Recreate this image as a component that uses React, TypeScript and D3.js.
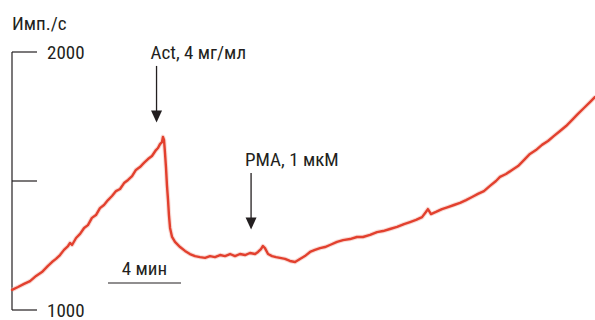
import React from "react";
import * as d3 from "d3";

const times = [0, 0.33, 0.66, 0.99, 1.32, 1.64, 1.97, 2.19, 2.41, 2.63, 2.85, 3.07, 3.18, 3.29, 3.51, 3.73, 3.95, 4.16, 4.38, 4.6, 4.82, 5.04, 5.26, 5.48, 5.7, 5.92, 6.14, 6.36, 6.58, 6.79, 7.01, 7.23, 7.45, 7.67, 7.89, 8.0, 8.11, 8.22, 8.27, 8.33, 8.38, 8.44, 8.49, 8.55, 8.6, 8.66, 8.77, 8.93, 9.21, 9.48, 9.75, 10.03, 10.3, 10.58, 10.85, 11.12, 11.4, 11.67, 11.95, 12.22, 12.49, 12.77, 13.04, 13.32, 13.48, 13.64, 13.75, 13.86, 14.03, 14.25, 14.47, 14.68, 14.96, 15.23, 15.51, 15.78, 16.05, 16.33, 16.6, 16.88, 17.15, 17.42, 17.81, 18.14, 18.52, 18.9, 19.23, 19.62, 20.0, 20.33, 20.71, 21.1, 21.48, 21.81, 22.14, 22.47, 22.68, 22.79, 22.96, 23.23, 23.56, 23.89, 24.22, 24.55, 24.88, 25.21, 25.53, 25.86, 26.19, 26.52, 26.74, 27.07, 27.4, 27.73, 28.05, 28.38, 28.71, 29.04, 29.37, 29.7, 30.03, 30.36, 30.68, 31.01, 31.34, 31.67, 31.95];

const counts = [1078, 1089, 1101, 1112, 1132, 1147, 1171, 1186, 1198, 1213, 1233, 1248, 1260, 1252, 1279, 1295, 1318, 1329, 1357, 1368, 1395, 1407, 1426, 1442, 1461, 1469, 1492, 1504, 1519, 1543, 1554, 1570, 1585, 1597, 1620, 1628, 1643, 1651, 1671, 1659, 1612, 1550, 1484, 1426, 1368, 1318, 1283, 1264, 1244, 1229, 1217, 1209, 1205, 1202, 1209, 1205, 1213, 1209, 1217, 1209, 1217, 1213, 1221, 1217, 1225, 1236, 1248, 1240, 1217, 1209, 1205, 1202, 1198, 1190, 1186, 1198, 1209, 1225, 1233, 1240, 1244, 1252, 1264, 1271, 1275, 1283, 1283, 1291, 1302, 1306, 1314, 1322, 1333, 1341, 1349, 1360, 1380, 1391, 1372, 1380, 1391, 1399, 1407, 1415, 1426, 1438, 1450, 1461, 1481, 1500, 1516, 1527, 1543, 1558, 1581, 1605, 1620, 1640, 1655, 1675, 1694, 1713, 1736, 1760, 1783, 1806, 1826];

const yTicks = [1000, 1500, 2000];
const yTickLabels: Record<number, string> = { 1000: "1000", 2000: "2000" };
const yLabel = "Имп./с";

const annotations = [
  { label: "Act, 4 мг/мл", time: 7.92, top: 1946, tip: 1727 },
  { label: "PMA, 1 мкМ", time: 13.1, top: 1531, tip: 1312 },
];

const scaleBar = { start: 5.26, length: 4, label: "4 мин" };

const FONT = "'Liberation Sans Narrow', 'Arial Narrow', 'Roboto Condensed', 'Liberation Sans', sans-serif";
const TEXT = "#231f20";

export default function App() {
  const W = 595, H = 320;
  const x = d3.scaleLinear().domain([0, 32]).range([12, 596]);
  const y = d3.scaleLinear().domain([1000, 2000]).range([310, 52]);
  const data = times.map((t, i) => [t, counts[i]] as [number, number]);
  const line = d3.line<[number, number]>().x((d) => x(d[0])).y((d) => y(d[1])).curve(d3.curveLinear);
  const axisX = x(0);

  return (
    <svg width={W} height={H} style={{ position: "absolute", left: 0, top: 0, background: "#fff" }}>
      <rect width={W} height={H} fill="#fff" />
      <text x={axisX} y={30} fontFamily={FONT} fontSize={19} fill={TEXT}>{yLabel}</text>
      <line x1={axisX} x2={axisX} y1={y(2000)} y2={y(1000)} stroke={TEXT} strokeWidth={1.2} />
      {yTicks.map((v) => (
        <g key={v}>
          <line x1={axisX} x2={axisX + 25} y1={y(v)} y2={y(v)} stroke={TEXT} strokeWidth={1.2} />
          {yTickLabels[v] && (
            <text x={axisX + 35} y={y(v)} dy="0.36em" fontFamily={FONT} fontSize={19} fill={TEXT}>
              {yTickLabels[v]}
            </text>
          )}
        </g>
      ))}
      <path d={line(data) || ""} fill="none" stroke="#f3b8ad" strokeWidth={4.5} strokeLinejoin="round" opacity={0.5} />
      <path d={line(data) || ""} fill="none" stroke="#e2402e" strokeWidth={2.4} strokeLinejoin="round" strokeLinecap="round" />
      {annotations.map((a) => {
        const ax = x(a.time);
        const yTop = y(a.top);
        const yTip = y(a.tip);
        return (
          <g key={a.label}>
            <text x={ax - 6} y={yTop - 7} fontFamily={FONT} fontSize={19} fill={TEXT}>{a.label}</text>
            <line x1={ax} x2={ax} y1={yTop} y2={yTip - 10} stroke={TEXT} strokeWidth={1.3} />
            <path d={`M${ax - 5.5},${yTip - 12} L${ax + 5.5},${yTip - 12} L${ax},${yTip} Z`} fill={TEXT} />
          </g>
        );
      })}
      <text x={(x(scaleBar.start) + x(scaleBar.start + scaleBar.length)) / 2} y={275} textAnchor="middle" fontFamily={FONT} fontSize={19} fill={TEXT}>
        {scaleBar.label}
      </text>
      <line x1={x(scaleBar.start)} x2={x(scaleBar.start + scaleBar.length)} y1={283} y2={283} stroke={TEXT} strokeWidth={1.2} />
    </svg>
  );
}
